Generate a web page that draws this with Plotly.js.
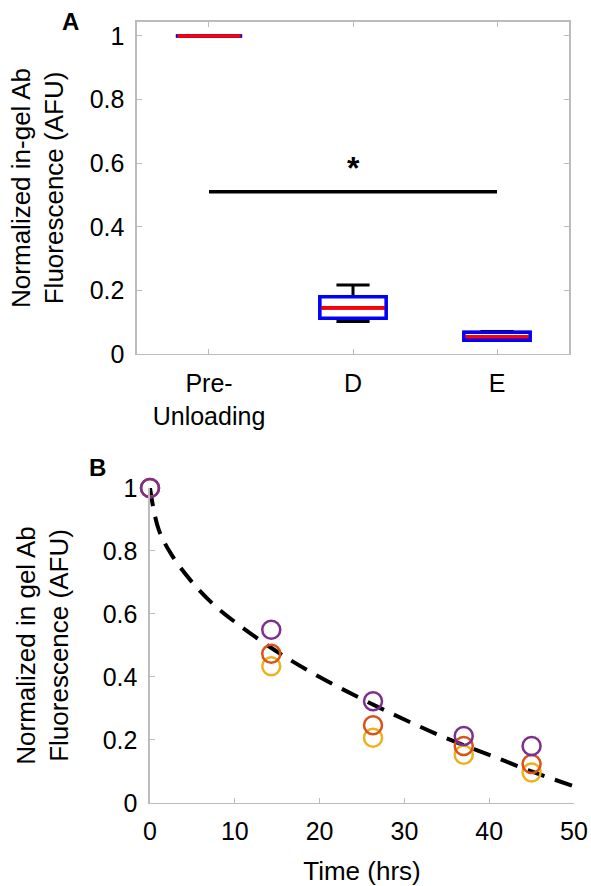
<!DOCTYPE html>
<html>
<head>
<meta charset="utf-8">
<script src="https://cdn.plot.ly/plotly-3.0.1.min.js"></script>
<style>html,body{margin:0;padding:0;background:#fff}#chart{width:591px;height:886px}</style>
</head>
<body>
<div id="chart"></div>
<script>
// ---- Panel A data ----
const categories = ["Pre-<br>Unloading", "D", "E"];
const catPos = [1, 2, 3];
const boxQ1 = [1.0, 0.112, 0.043];
const boxMedian = [1.0, 0.145, 0.054];
const boxQ3 = [1.0, 0.180, 0.068];
const boxLower = [1.0, 0.102, 0.043];
const boxUpper = [1.0, 0.217, 0.071];
const sigBarX = [1, 3];
const sigBarY = [0.51, 0.51];
const sigStarX = 2;
const sigStarY = 0.585;

// ---- Panel B data ----
const timeHrs = [0, 14.3, 26.3, 37.0, 45.0];
const seriesPurple = [1.0, 0.550, 0.323, 0.213, 0.181];
const seriesOrange = [1.0, 0.474, 0.247, 0.181, 0.124];
const seriesYellow = [1.0, 0.434, 0.207, 0.153, 0.097];
const fitTime = [0, 1, 2.5, 5, 7.5, 10, 15, 20, 25, 30, 35, 40, 45, 50];
const fitValue = [1.0, 0.87, 0.79, 0.70, 0.63, 0.575, 0.48, 0.40, 0.33, 0.265, 0.205, 0.153, 0.10, 0.053];

const FONT = "Liberation Sans, Arial, Helvetica, sans-serif";
const AXC = "#bcbcbc";

const traces = [
  { // whiskers (black)
    type: "box", x: catPos, q1: boxQ1, median: boxMedian, q3: boxQ3,
    lowerfence: boxLower, upperfence: boxUpper, boxpoints: false,
    width: 0.46, whiskerwidth: 0.5,
    line: {color: "#000000", width: 3}, fillcolor: "rgba(0,0,0,0)",
    xaxis: "x", yaxis: "y", hoverinfo: "skip"
  },
  { // boxes (blue)
    type: "box", x: catPos, q1: boxQ1, median: boxMedian, q3: boxQ3,
    lowerfence: boxQ1, upperfence: boxQ3, boxpoints: false,
    width: 0.46, whiskerwidth: 0.5,
    line: {color: "#0000ff", width: 3.5}, fillcolor: "#ffffff",
    xaxis: "x", yaxis: "y", hoverinfo: "skip"
  },
  { // medians (red)
    type: "box", x: catPos, q1: boxMedian, median: boxMedian, q3: boxMedian,
    lowerfence: boxMedian, upperfence: boxMedian, boxpoints: false,
    width: 0.44, whiskerwidth: 0.5,
    line: {color: "#ff0000", width: 3.6}, fillcolor: "rgba(0,0,0,0)",
    xaxis: "x", yaxis: "y", hoverinfo: "skip"
  },
  { // significance bar
    type: "scatter", mode: "lines", x: sigBarX, y: sigBarY,
    line: {color: "#000000", width: 3.5}, xaxis: "x", yaxis: "y", hoverinfo: "skip"
  },
  { // fit
    type: "scatter", mode: "lines", x: fitTime, y: fitValue,
    line: {color: "#000000", width: 4, dash: "18px,11px", shape: "spline"},
    xaxis: "x2", yaxis: "y2", cliponaxis: false, hoverinfo: "skip"
  },
  {
    type: "scatter", mode: "markers", x: timeHrs, y: seriesYellow,
    marker: {symbol: "circle-open", size: 18, color: "#EDB120", line: {width: 2.5}},
    xaxis: "x2", yaxis: "y2", cliponaxis: false
  },
  {
    type: "scatter", mode: "markers", x: timeHrs, y: seriesOrange,
    marker: {symbol: "circle-open", size: 18, color: "#D95319", line: {width: 2.5}},
    xaxis: "x2", yaxis: "y2", cliponaxis: false
  },
  {
    type: "scatter", mode: "markers", x: timeHrs, y: seriesPurple,
    marker: {symbol: "circle-open", size: 18, color: "#7E2F8E", line: {width: 2.5}},
    xaxis: "x2", yaxis: "y2", cliponaxis: false
  }
];

const axisCommon = {
  showgrid: false, zeroline: false, showline: true, linecolor: AXC, linewidth: 1.5,
  ticks: "inside", ticklen: 5, tickcolor: AXC, tickwidth: 1,
  tickfont: {family: FONT, size: 25, color: "#000"}
};

const layout = {
  width: 591, height: 886,
  margin: {l: 0, r: 0, t: 0, b: 0},
  paper_bgcolor: "#ffffff", plot_bgcolor: "#ffffff",
  showlegend: false, hovermode: false,
  boxmode: "overlay",
  font: {family: FONT, color: "#000"},
  xaxis: Object.assign({}, axisCommon, {
    domain: [0.2318, 0.9628], anchor: "y", range: [0.5, 3.5],
    tickmode: "array", tickvals: catPos, ticktext: categories,
    mirror: "ticks", ticklabelstandoff: 7
  }),
  yaxis: Object.assign({}, axisCommon, {
    domain: [0.6005, 0.9752], anchor: "x", range: [0, 1.044],
    tickmode: "array", tickvals: [0, 0.2, 0.4, 0.6, 0.8, 1],
    ticktext: ["0", "0.2", "0.4", "0.6", "0.8", "1"],
    mirror: "ticks", ticklabelstandoff: 6,
    title: {text: "Normalized in-gel Ab<br>Fluorescence (AFU)", font: {family: FONT, size: 26, color: "#000"}, standoff: 18}
  }),
  xaxis2: Object.assign({}, axisCommon, {
    domain: [0.2538, 0.9712], anchor: "y2", range: [0, 50],
    tickmode: "array", tickvals: [0, 10, 20, 30, 40, 50],
    ticklabelstandoff: 6,
    title: {text: "Time (hrs)", font: {family: FONT, size: 26, color: "#000"}, standoff: 18}
  }),
  yaxis2: Object.assign({}, axisCommon, {
    domain: [0.0937, 0.4492], anchor: "x2", range: [0, 1],
    tickmode: "array", tickvals: [0, 0.2, 0.4, 0.6, 0.8, 1],
    ticktext: ["0", "0.2", "0.4", "0.6", "0.8", "1"],
    ticklabelstandoff: 6,
    title: {text: "Normalized in gel Ab<br>Fluorescence (AFU)", font: {family: FONT, size: 26, color: "#000"}, standoff: 26}
  }),
  annotations: [
    {x: sigStarX, y: sigStarY, xref: "x", yref: "y", text: "<b>*</b>", showarrow: false,
     font: {family: FONT, size: 32, color: "#000"}},
    {x: 70 / 591, y: 1 - 22 / 886, xref: "paper", yref: "paper", text: "<b>A</b>", showarrow: false,
     xanchor: "center", yanchor: "middle", font: {family: FONT, size: 24, color: "#000"}},
    {x: 97 / 591, y: 1 - 467 / 886, xref: "paper", yref: "paper", text: "<b>B</b>", showarrow: false,
     xanchor: "center", yanchor: "middle", font: {family: FONT, size: 24, color: "#000"}}
  ]
};

Plotly.newPlot("chart", traces, layout, {displayModeBar: false, staticPlot: true});
</script>
</body>
</html>
